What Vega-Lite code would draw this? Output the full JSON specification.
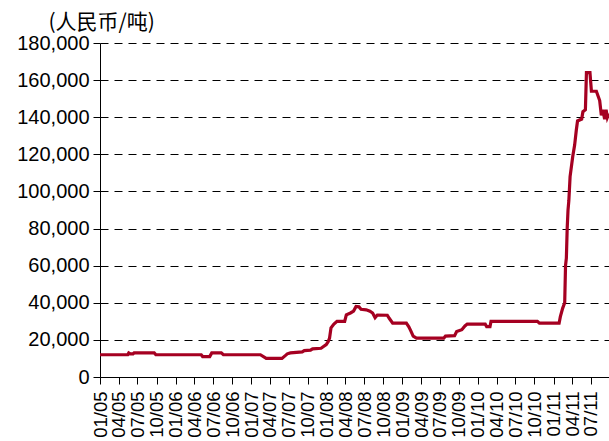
{
  "$schema": "https://vega.github.io/schema/vega-lite/v6.json",
  "autosize": {"type": "none"},
  "width": 509,
  "height": 334,
  "padding": {"left": 100, "top": 43, "right": 0, "bottom": 64},
  "background": "white",
  "config": {"view": {"stroke": null}},
  "data": {"values": [
    {"date": "2005-01-01", "price": 12000},
    {"date": "2005-05-15", "price": 12000},
    {"date": "2005-05-20", "price": 13000},
    {"date": "2005-05-28", "price": 12500},
    {"date": "2005-06-10", "price": 12500},
    {"date": "2005-06-15", "price": 13000},
    {"date": "2005-09-20", "price": 13000},
    {"date": "2005-09-28", "price": 12000},
    {"date": "2006-05-05", "price": 12000},
    {"date": "2006-05-12", "price": 11000},
    {"date": "2006-06-15", "price": 11000},
    {"date": "2006-06-25", "price": 13000},
    {"date": "2006-08-10", "price": 13000},
    {"date": "2006-08-20", "price": 12000},
    {"date": "2007-02-15", "price": 12000},
    {"date": "2007-03-15", "price": 10000},
    {"date": "2007-05-30", "price": 10000},
    {"date": "2007-06-15", "price": 11500},
    {"date": "2007-06-25", "price": 12500},
    {"date": "2007-07-10", "price": 13000},
    {"date": "2007-09-05", "price": 13500},
    {"date": "2007-09-15", "price": 14200},
    {"date": "2007-10-15", "price": 14500},
    {"date": "2007-10-25", "price": 15200},
    {"date": "2007-12-05", "price": 15500},
    {"date": "2007-12-15", "price": 16300},
    {"date": "2007-12-30", "price": 17500},
    {"date": "2008-01-08", "price": 19000},
    {"date": "2008-01-15", "price": 21000},
    {"date": "2008-01-22", "price": 26500},
    {"date": "2008-02-05", "price": 28500},
    {"date": "2008-02-20", "price": 30000},
    {"date": "2008-03-28", "price": 30000},
    {"date": "2008-04-05", "price": 33500},
    {"date": "2008-04-25", "price": 34500},
    {"date": "2008-05-10", "price": 35500},
    {"date": "2008-05-22", "price": 38000},
    {"date": "2008-06-05", "price": 37800},
    {"date": "2008-06-15", "price": 36500},
    {"date": "2008-07-10", "price": 36200},
    {"date": "2008-07-28", "price": 35500},
    {"date": "2008-08-10", "price": 34500},
    {"date": "2008-08-22", "price": 32000},
    {"date": "2008-09-02", "price": 33400},
    {"date": "2008-10-20", "price": 33300},
    {"date": "2008-10-30", "price": 31500},
    {"date": "2008-11-15", "price": 29000},
    {"date": "2009-01-20", "price": 29000},
    {"date": "2009-02-01", "price": 27000},
    {"date": "2009-02-10", "price": 25000},
    {"date": "2009-02-22", "price": 22000},
    {"date": "2009-03-10", "price": 21000},
    {"date": "2009-07-20", "price": 21000},
    {"date": "2009-07-28", "price": 22000},
    {"date": "2009-09-10", "price": 22300},
    {"date": "2009-09-20", "price": 24500},
    {"date": "2009-10-15", "price": 25500},
    {"date": "2009-10-30", "price": 27500},
    {"date": "2009-11-10", "price": 28500},
    {"date": "2010-02-05", "price": 28500},
    {"date": "2010-02-12", "price": 27200},
    {"date": "2010-02-28", "price": 27200},
    {"date": "2010-03-05", "price": 30000},
    {"date": "2010-10-15", "price": 30000},
    {"date": "2010-10-25", "price": 29000},
    {"date": "2011-01-28", "price": 29000},
    {"date": "2011-02-03", "price": 32500},
    {"date": "2011-02-14", "price": 37000},
    {"date": "2011-02-24", "price": 40000},
    {"date": "2011-02-28", "price": 60000},
    {"date": "2011-03-04", "price": 64000},
    {"date": "2011-03-08", "price": 80000},
    {"date": "2011-03-12", "price": 90000},
    {"date": "2011-03-16", "price": 95000},
    {"date": "2011-03-22", "price": 108000},
    {"date": "2011-04-04", "price": 119000},
    {"date": "2011-04-13", "price": 125000},
    {"date": "2011-04-21", "price": 133000},
    {"date": "2011-04-27", "price": 138000},
    {"date": "2011-05-17", "price": 139000},
    {"date": "2011-05-23", "price": 143000},
    {"date": "2011-06-04", "price": 144000},
    {"date": "2011-06-09", "price": 164000},
    {"date": "2011-06-26", "price": 164000},
    {"date": "2011-07-03", "price": 154000},
    {"date": "2011-07-27", "price": 154000},
    {"date": "2011-08-12", "price": 149000},
    {"date": "2011-08-20", "price": 141000},
    {"date": "2011-08-27", "price": 144000},
    {"date": "2011-09-05", "price": 139000},
    {"date": "2011-09-12", "price": 144000},
    {"date": "2011-09-18", "price": 140000},
    {"date": "2011-09-25", "price": 142000}
  ]},
  "mark": {"type": "line", "color": "#A50021", "strokeWidth": 3.2, "clip": true},
  "encoding": {
    "x": {
      "field": "date",
      "type": "temporal",
      "scale": {"domain": ["2005-01-01", "2011-09-26"]},
      "axis": {
        "title": null,
        "format": "%m/%y",
        "tickCount": {"interval": "month", "step": 3},
        "labelOverlap": false,
        "labelAngle": -90,
        "labelAlign": "right",
        "labelBaseline": "middle",
        "labelPadding": 7,
        "labelFont": "Liberation Sans",
        "labelFontSize": 18.5,
        "labelColor": "#000000",
        "labelFlush": false,
        "tickSize": 7,
        "tickColor": "#000000",
        "domainColor": "#000000",
        "grid": false
      }
    },
    "y": {
      "field": "price",
      "type": "quantitative",
      "scale": {"domain": [0, 180000], "nice": false},
      "axis": {
        "title": "(人民币/吨)",
        "titleAngle": 0,
        "titleAlign": "left",
        "titleBaseline": "alphabetic",
        "titleX": -52,
        "titleY": -15,
        "titleFont": "Noto Sans CJK SC",
        "titleFontSize": 21,
        "titleFontWeight": "normal",
        "titleColor": "#000000",
        "values": [0, 20000, 40000, 60000, 80000, 100000, 120000, 140000, 160000, 180000],
        "format": ",d",
        "labelFont": "Liberation Sans",
        "labelFontSize": 20,
        "labelColor": "#000000",
        "labelPadding": 4,
        "labelFlush": false,
        "tickSize": 7,
        "tickColor": "#000000",
        "domainColor": "#000000",
        "grid": true,
        "gridColor": "#000000",
        "gridDash": [8, 6],
        "gridWidth": 1
      }
    }
  }
}
